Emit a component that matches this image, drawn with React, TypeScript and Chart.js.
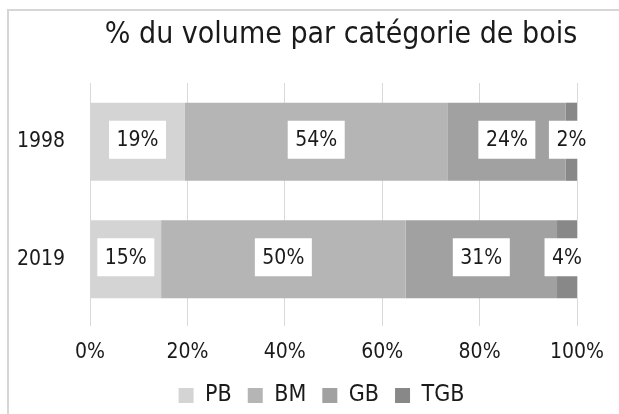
import React, { useEffect, useRef } from "react";
import { Chart, registerables } from "chart.js";

Chart.register(...registerables);

// ---- data ----
const categories = ["1998", "2019"];
const seriesNames = ["PB", "BM", "GB", "TGB"];
const pbValues = [19.4, 14.6];
const bmValues = [54.1, 50.2];
const gbValues = [24.2, 31.1];
const tgbValues = [2.3, 4.1];
const xTickValues = [0, 20, 40, 60, 80, 100];
const chartTitle = "% du volume par catégorie de bois";

// ---- styles ----
const seriesColors = ["#d4d4d4", "#b5b5b5", "#a1a1a1", "#888888"];
const FONT = "'DejaVu Sans Condensed', 'DejaVu Sans', sans-serif";
const TEXT = "#1a1a1a";

const framePlugin = {
  id: "frame",
  beforeDraw(chart: any) {
    const ctx = chart.ctx;
    ctx.save();
    ctx.strokeStyle = "#d6d6d6";
    ctx.lineWidth = 2;
    ctx.beginPath();
    ctx.moveTo(8, chart.height);
    ctx.lineTo(8, 10);
    ctx.lineTo(chart.width, 10);
    ctx.stroke();
    ctx.restore();
  },
};

const legendShiftPlugin = {
  id: "legendShift",
  afterLayout(chart: any) {
    const lg = chart.legend;
    if (lg) {
      lg.left -= 12;
      lg.right -= 12;
    }
  },
};

const labelPlugin = {
  id: "boxLabels",
  afterDatasetsDraw(chart: any) {
    const ctx = chart.ctx;
    ctx.save();
    ctx.font = `21px ${FONT}`;
    ctx.textAlign = "center";
    ctx.textBaseline = "middle";
    chart.data.datasets.forEach((ds: any, di: number) => {
      const meta = chart.getDatasetMeta(di);
      meta.data.forEach((bar: any, i: number) => {
        const v = ds.data[i] as number;
        const text = Math.round(v) + "%";
        const { x, base, y } = bar.getProps(["x", "base", "y"], true);
        const cx = (x + base) / 2;
        const w = ctx.measureText(text).width + 15;
        const h = 38;
        ctx.fillStyle = "#ffffff";
        ctx.fillRect(cx - w / 2, y - 2 - h / 2, w, h);
        ctx.fillStyle = TEXT;
        ctx.fillText(text, cx, y - 1);
      });
    });
    ctx.restore();
  },
};

export default function App() {
  const ref = useRef<HTMLCanvasElement>(null);

  useEffect(() => {
    const seriesData = [pbValues, bmValues, gbValues, tgbValues];
    const chart = new Chart(ref.current!, {
      type: "bar",
      data: {
        labels: categories,
        datasets: seriesNames.map((name, i) => ({
          label: name,
          data: seriesData[i],
          backgroundColor: seriesColors[i],
          borderWidth: 0,
          categoryPercentage: 1,
          barPercentage: 0.665,
        })),
      },
      options: {
        indexAxis: "y",
        responsive: false,
        animation: false,
        devicePixelRatio: 1,
        layout: { padding: 0 },
        scales: {
          x: {
            stacked: true,
            min: 0,
            max: 100,
            afterBuildTicks: (s: any) => {
              s.ticks = xTickValues.map((v) => ({ value: v }));
            },
            ticks: {
              callback: (v: any) => v + "%",
              padding: 14.4,
              color: TEXT,
              font: { family: FONT, size: 21 },
            },
            grid: { color: "#d9d9d9", lineWidth: 1, tickLength: 8 },
            border: { display: false },
            afterFit: (s: any) => {
              s.paddingRight = 105;
              s.height = 50;
            },
          },
          y: {
            stacked: true,
            grid: { display: false, drawTicks: false },
            border: { display: false },
            ticks: {
              padding: 25,
              color: TEXT,
              font: { family: FONT, size: 21 },
            },
            afterFit: (s: any) => {
              s.width = 90;
            },
          },
        },
        plugins: {
          title: {
            display: true,
            text: chartTitle,
            color: TEXT,
            font: { family: FONT, size: 30, weight: "normal", lineHeight: 1.2 },
            padding: { top: 17, bottom: 30 },
          },
          legend: {
            position: "bottom",
            fullSize: false,
            labels: {
              boxWidth: 15,
              boxHeight: 15,
              padding: 16,
              color: TEXT,
              font: { family: FONT, size: 23 },
            },
          },
          tooltip: { enabled: false },
        },
      },
      plugins: [framePlugin, legendShiftPlugin, labelPlugin],
    } as any);
    return () => chart.destroy();
  }, []);

  return (
    <div
      style={{
        position: "fixed",
        left: 0,
        top: 0,
        width: 619,
        height: 414,
        overflow: "hidden",
        background: "#ffffff",
      }}
    >
      <canvas
        ref={ref}
        width={682}
        height={417}
        style={{ position: "absolute", left: 0, top: 0, width: 682, height: 417 }}
      />
    </div>
  );
}
